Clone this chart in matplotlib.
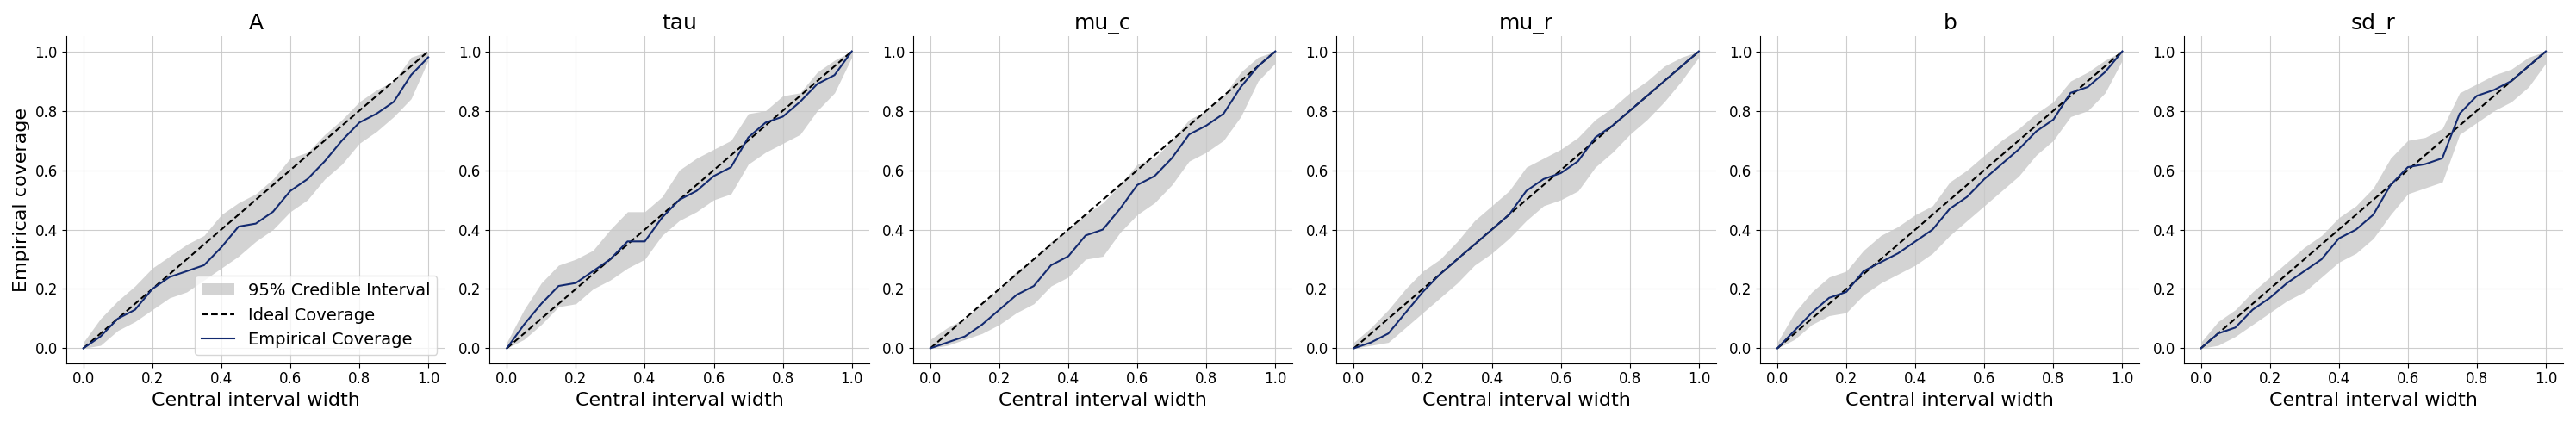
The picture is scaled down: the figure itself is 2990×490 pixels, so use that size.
import matplotlib
matplotlib.use("Agg")
import matplotlib.pyplot as plt
import numpy as np

widths = [0.0, 0.05, 0.1, 0.15, 0.2, 0.25, 0.3, 0.35, 0.4, 0.45, 0.5,
          0.55, 0.6, 0.65, 0.7, 0.75, 0.8, 0.85, 0.9, 0.95, 1.0]

names = ["A", "tau", "mu_c", "mu_r", "b", "sd_r"]

cov_A = [0, .04, .10, .13, .20, .24, .26, .28, .34, .41, .42, .46, .53, .57, .63, .70, .76, .79, .83, .92, .98]
lo_A = [0, .01, .06, .09, .13, .17, .19, .23, .27, .31, .36, .40, .46, .50, .57, .62, .69, .73, .78, .84, .97]
hi_A = [.02, .10, .16, .21, .27, .31, .35, .38, .45, .49, .52, .57, .64, .66, .72, .77, .83, .87, .90, .98, 1.0]

cov_tau = [0, .08, .15, .21, .22, .26, .30, .36, .36, .44, .50, .53, .58, .61, .71, .76, .78, .83, .89, .92, 1.0]
lo_tau = [0, .03, .08, .14, .15, .20, .23, .27, .30, .38, .43, .46, .50, .52, .62, .66, .69, .72, .80, .86, .98]
hi_tau = [.02, .13, .22, .28, .30, .33, .40, .46, .46, .51, .60, .64, .67, .70, .79, .80, .85, .86, .93, .97, 1.0]

cov_mu_c = [0, .02, .04, .08, .13, .18, .21, .28, .31, .38, .40, .47, .55, .58, .64, .72, .75, .79, .88, .95, 1.0]
lo_mu_c = [0, .01, .03, .05, .08, .12, .15, .21, .24, .30, .31, .39, .45, .49, .55, .63, .66, .70, .78, .90, .96]
hi_mu_c = [.03, .07, .10, .15, .20, .26, .30, .36, .40, .45, .49, .55, .62, .64, .70, .77, .80, .85, .93, .98, 1.0]

cov_mu_r = [0, .02, .05, .12, .19, .25, .30, .35, .40, .45, .53, .57, .59, .63, .71, .75, .80, .85, .90, .95, 1.0]
lo_mu_r = [0, .01, .02, .07, .12, .17, .22, .28, .32, .37, .43, .48, .50, .53, .61, .66, .72, .77, .83, .90, .98]
hi_mu_r = [.02, .07, .13, .20, .26, .30, .36, .43, .48, .53, .61, .64, .67, .71, .77, .81, .86, .90, .95, .98, 1.0]

cov_b = [0, .06, .12, .17, .19, .26, .29, .32, .36, .40, .47, .51, .57, .62, .67, .73, .77, .86, .88, .93, 1.0]
lo_b = [0, .03, .08, .11, .12, .18, .22, .25, .28, .32, .38, .43, .48, .53, .58, .65, .70, .78, .80, .86, .97]
hi_b = [.02, .12, .19, .24, .26, .33, .38, .41, .45, .48, .56, .60, .65, .70, .74, .79, .83, .90, .93, .97, 1.0]

cov_sd_r = [0, .05, .07, .13, .17, .22, .26, .30, .37, .40, .45, .55, .61, .62, .64, .79, .85, .87, .90, .95, 1.0]
lo_sd_r = [0, .01, .04, .08, .12, .16, .19, .24, .29, .32, .37, .45, .52, .54, .56, .72, .76, .80, .83, .88, .96]
hi_sd_r = [.02, .09, .13, .19, .24, .29, .34, .38, .44, .48, .54, .64, .70, .71, .74, .86, .89, .92, .94, .98, 1.0]

coverage = [cov_A, cov_tau, cov_mu_c, cov_mu_r, cov_b, cov_sd_r]
lower = [lo_A, lo_tau, lo_mu_c, lo_mu_r, lo_b, lo_sd_r]
upper = [hi_A, hi_tau, hi_mu_c, hi_mu_r, hi_b, hi_sd_r]

fig, axes = plt.subplots(1, 6, figsize=(29.9, 4.9), dpi=100)
for i, ax in enumerate(axes):
    ax.fill_between(widths, lower[i], upper[i], color="#b0b0b0",
                    alpha=0.55, linewidth=0, label="95% Credible Interval")
    ax.plot([0, 1], [0, 1], "k--", lw=1.5, label="Ideal Coverage")
    ax.plot(widths, coverage[i], color="#132a70", lw=1.5,
            label="Empirical Coverage")
    ax.set_title(names[i], fontsize=18)
    ax.set_xlabel("Central interval width", fontsize=16)
    ax.set_xlim(-0.05, 1.05)
    ax.set_ylim(-0.05, 1.05)
    ax.set_xticks(np.arange(0, 1.01, 0.2))
    ax.set_yticks(np.arange(0, 1.01, 0.2))
    ax.tick_params(labelsize=12)
    ax.grid(True, color="#c8c8c8", alpha=0.9)
    ax.spines["top"].set_visible(False)
    ax.spines["right"].set_visible(False)

axes[0].set_ylabel("Empirical coverage", fontsize=16)
axes[0].legend(loc="lower right", fontsize=14)
fig.tight_layout()
fig.savefig("out.png", dpi=100)
